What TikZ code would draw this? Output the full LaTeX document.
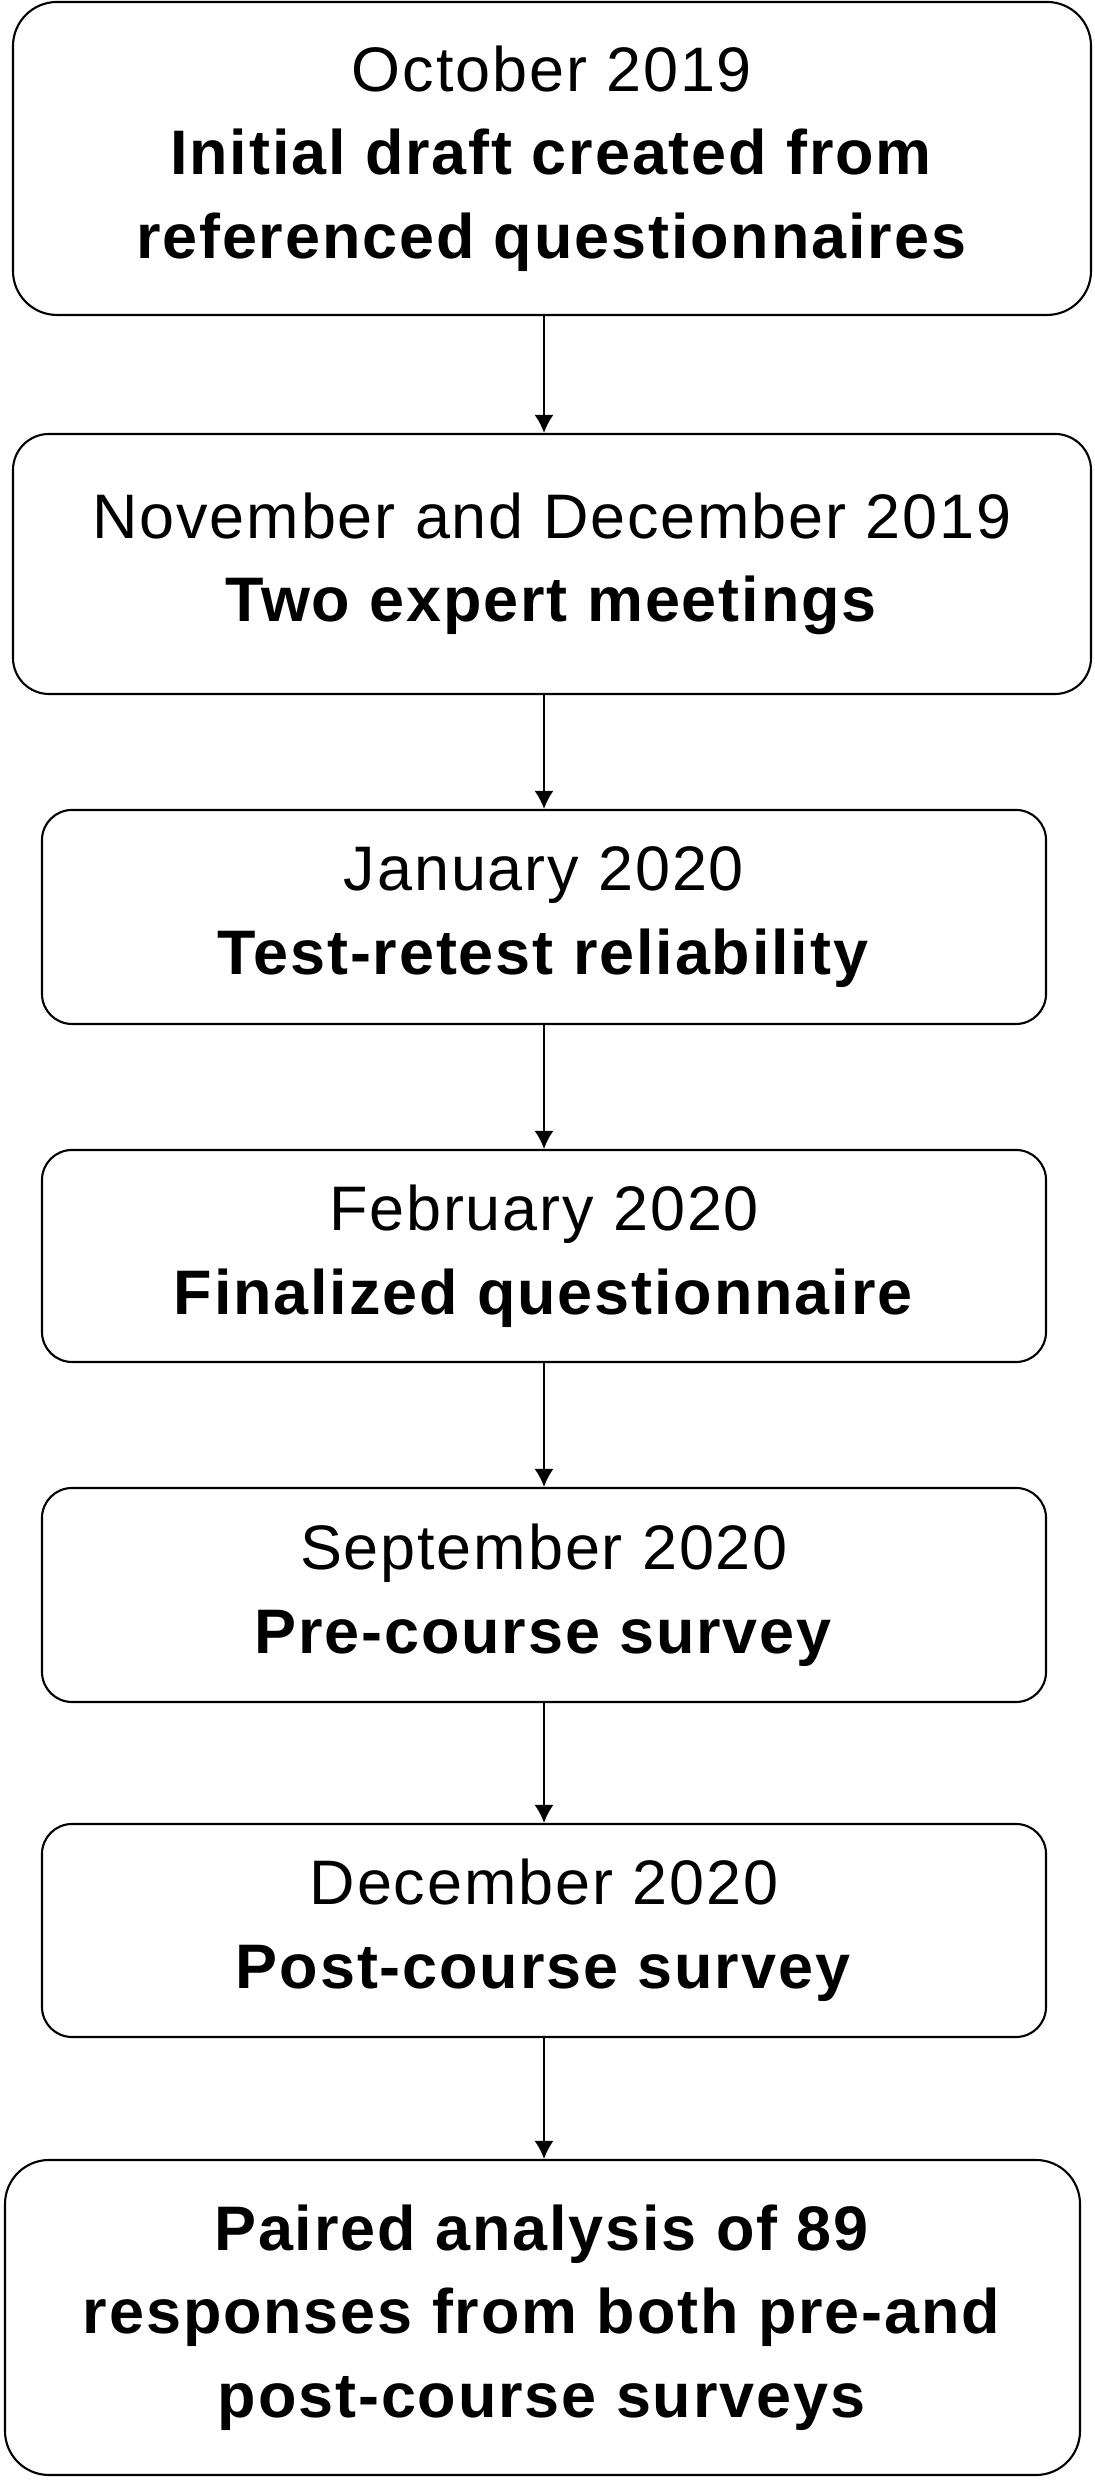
\documentclass[tikz,border=0pt]{standalone}
\usepackage{fontspec}
\setmainfont{Liberation Sans}[LetterSpace=3]
\usepackage{tikz}
\usetikzlibrary{arrows.meta}

\tikzset{
  stage/.style={draw, line width=0.6pt, fill=white, align=center, inner sep=0pt,
    font=\fontsize{17.9}{23.8}\selectfont},
  link/.style={-{Latex[length=0.18cm,width=0.19cm]}, line width=0.55pt}
}

\begin{document}
\begin{tikzpicture}
            \useasboundingbox (0,0) rectangle (10.94,24.80);

            \node[stage, minimum width=10.78cm, minimum height=3.13cm, rounded corners=0.44cm] at (5.52,23.215) (A) {October 2019\\\textbf{Initial draft created from}\\\textbf{referenced questionnaires}};
            \node[stage, minimum width=10.78cm, minimum height=2.60cm, rounded corners=0.36cm] at (5.52,19.16) (B) {November and December 2019\\\textbf{Two expert meetings}};
            \node[stage, minimum width=10.04cm, minimum height=2.14cm, rounded corners=0.30cm] at (5.44,15.63) (C) {January 2020\\\textbf{Test-retest reliability}};
            \node[stage, minimum width=10.04cm, minimum height=2.12cm, rounded corners=0.30cm] at (5.44,12.24) (D) {February 2020\\\textbf{Finalized questionnaire}};
            \node[stage, minimum width=10.04cm, minimum height=2.14cm, rounded corners=0.30cm] at (5.44,8.85) (E) {September 2020\\\textbf{Pre-course survey}};
            \node[stage, minimum width=10.04cm, minimum height=2.13cm, rounded corners=0.30cm] at (5.44,5.495) (F) {December 2020\\\textbf{Post-course survey}};
            \node[stage, minimum width=10.75cm, minimum height=3.15cm, rounded corners=0.44cm] at (5.425,1.625) (G) {\textbf{Paired analysis of 89}\\\textbf{responses from both pre-and}\\\textbf{post-course surveys}};

            \draw[link] (A.south -| C.north) -- (B.north -| C.north);
            \draw[link] (B.south -| C.north) -- (C.north);
            \draw[link] (C.south) -- (D.north);
            \draw[link] (D.south) -- (E.north);
            \draw[link] (E.south) -- (F.north);
            \draw[link] (F.south) -- (G.north -| F.south);
        \end{tikzpicture}
\end{document}
